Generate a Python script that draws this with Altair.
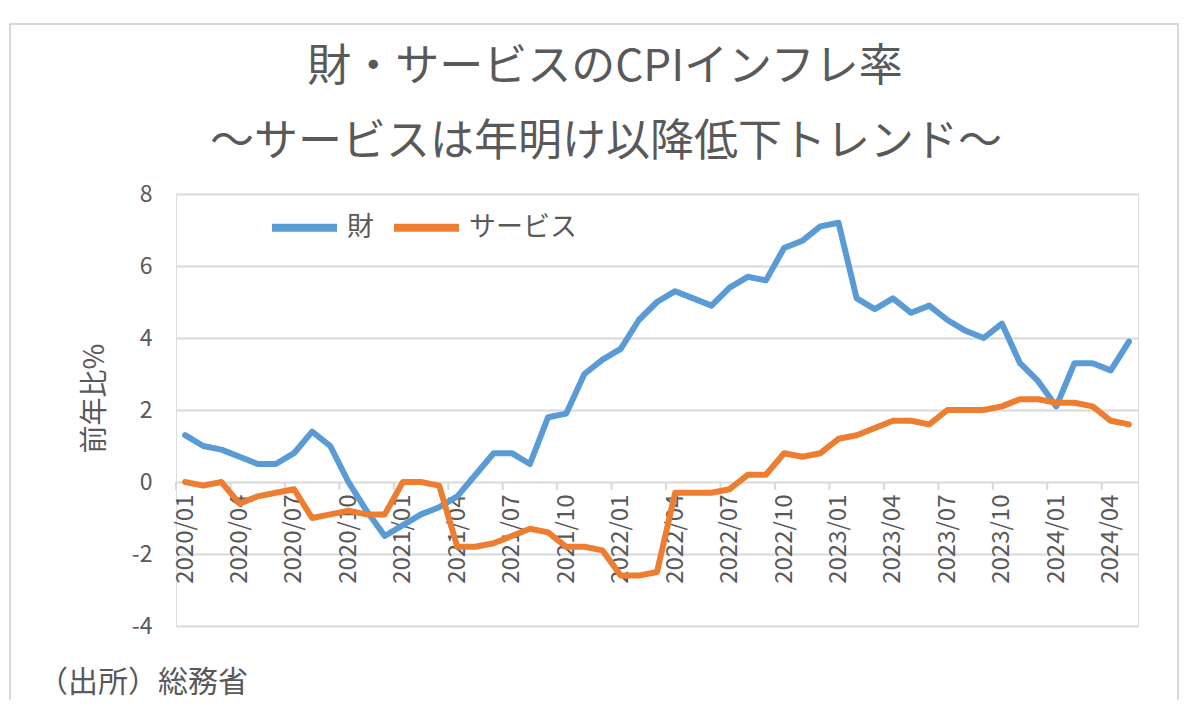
import altair as alt
import pandas as pd

months = [f"{y}/{m:02d}" for y in range(2020, 2025) for m in range(1, 13)][:53]

goods = [1.3, 1.0, 0.9, 0.7, 0.5, 0.5, 0.8, 1.4, 1.0, 0.0, -0.8, -1.5,
         -1.2, -0.9, -0.7, -0.4, 0.2, 0.8, 0.8, 0.5, 1.8, 1.9, 3.0, 3.4,
         3.7, 4.5, 5.0, 5.3, 5.1, 4.9, 5.4, 5.7, 5.6, 6.5, 6.7, 7.1,
         7.2, 5.1, 4.8, 5.1, 4.7, 4.9, 4.5, 4.2, 4.0, 4.4, 3.3, 2.8,
         2.1, 3.3, 3.3, 3.1, 3.9]

services = [0.0, -0.1, 0.0, -0.6, -0.4, -0.3, -0.2, -1.0, -0.9, -0.8, -0.9, -0.9,
            0.0, 0.0, -0.1, -1.8, -1.8, -1.7, -1.5, -1.3, -1.4, -1.8, -1.8, -1.9,
            -2.6, -2.6, -2.5, -0.3, -0.3, -0.3, -0.2, 0.2, 0.2, 0.8, 0.7, 0.8,
            1.2, 1.3, 1.5, 1.7, 1.7, 1.6, 2.0, 2.0, 2.0, 2.1, 2.3, 2.3,
            2.2, 2.2, 2.1, 1.7, 1.6]

series_names = ["財", "サービス"]
series_colors = ["#5B9BD5", "#ED7D31"]
label_step = 3
y_ticks = [-4, -2, 0, 2, 4, 6, 8]

title_lines = ["財・サービスのCPIインフレ率", "～サービスは年明け以降低下トレンド～"]
source_note = "（出所）総務省"
y_title = "前年比%"

FONT = "Noto Sans CJK JP"
GREY = "#595959"
GRID = "#d9d9d9"

n = len(months)
idx = list(range(n))
df = pd.DataFrame({
    "i": idx * 2,
    "month": months * 2,
    "value": goods + services,
    "series": [series_names[0]] * n + [series_names[1]] * n,
})
label_idx = idx[::label_step]
tick_df = pd.DataFrame({"b": [i - 0.5 for i in label_idx]})

W, H = 962, 432
month_array = "[" + ",".join(f"'{m}'" for m in months) + "]"

xscale = alt.Scale(domain=[-0.5, n - 0.5], nice=False, zero=False)
yscale = alt.Scale(domain=[-4, 8], nice=False, zero=False)

lines = alt.Chart(df).mark_line(strokeWidth=6, strokeJoin="round", strokeCap="round").encode(
    x=alt.X("i:Q", scale=xscale,
            axis=alt.Axis(values=label_idx, labelExpr=f"{month_array}[datum.value]",
                          labelAngle=270, labelFontSize=24,
                          labelColor=GREY, labelFont=FONT, labelPadding=12,
                          ticks=False, domain=False, grid=False, title=None,
                          offset=-144, labelOverlap=False, labelBound=False,
                          labelFlush=False)),
    y=alt.Y("value:Q", scale=yscale,
            axis=alt.Axis(values=y_ticks, grid=True, gridColor=GRID, gridWidth=2,
                          domain=False, ticks=False, labelFontSize=23, labelColor=GREY,
                          labelFont=FONT, labelPadding=24, labelExpr="'' + datum.value",
                          title=y_title, titleY=204,
                          titleFont=FONT, titleFontSize=28, titleColor=GREY,
                          titleFontWeight="normal", titlePadding=22)),
    color=alt.Color("series:N", sort=series_names,
                    scale=alt.Scale(domain=series_names, range=series_colors),
                    legend=alt.Legend(title=None, orient="none", legendX=92, legendY=-3,
                                      direction="horizontal", symbolType="stroke",
                                      symbolSize=4225, symbolStrokeWidth=8,
                                      labelFontSize=27, labelFont=FONT, labelColor=GREY,
                                      labelOffset=6, columnPadding=4)),
)

ticks = alt.Chart(tick_df).mark_rule(color=GRID, strokeWidth=2).encode(
    x=alt.X("b:Q", scale=xscale),
    y=alt.Y(datum=0, scale=yscale),
    y2=alt.Y2(datum=-0.22),
)

border = alt.Chart(alt.Data(values=[{"k": 1}])).mark_rect(
    fill="white", fillOpacity=0, stroke=GRID, strokeWidth=2
).encode(x=alt.value(-166), x2=alt.value(1002), y=alt.value(-170), y2=alt.value(530))

title1 = alt.Chart(alt.Data(values=[{"t": title_lines[0]}])).mark_text(
    align="center", baseline="middle", fontSize=44, font=FONT, color=GREY
).encode(text="t:N", x=alt.value(429), y=alt.value(-126))

title2 = alt.Chart(alt.Data(values=[{"t": title_lines[1]}])).mark_text(
    align="center", baseline="middle", fontSize=44, font=FONT, color=GREY
).encode(text="t:N", x=alt.value(430), y=alt.value(-51))

note = alt.Chart(alt.Data(values=[{"t": source_note}])).mark_text(
    align="left", baseline="middle", fontSize=30, font=FONT, color=GREY
).encode(text="t:N", x=alt.value(-138), y=alt.value(489))

chart = alt.layer(border, ticks, lines, title1, title2, note).properties(
    width=W, height=H,
    autosize=alt.AutoSizeParams(type="none"),
    padding={"left": 168, "top": 186, "right": 46, "bottom": 74},
).configure_view(stroke=None).configure(background="white")

chart.save("out.html", embed_options={"renderer": "svg", "actions": False})
